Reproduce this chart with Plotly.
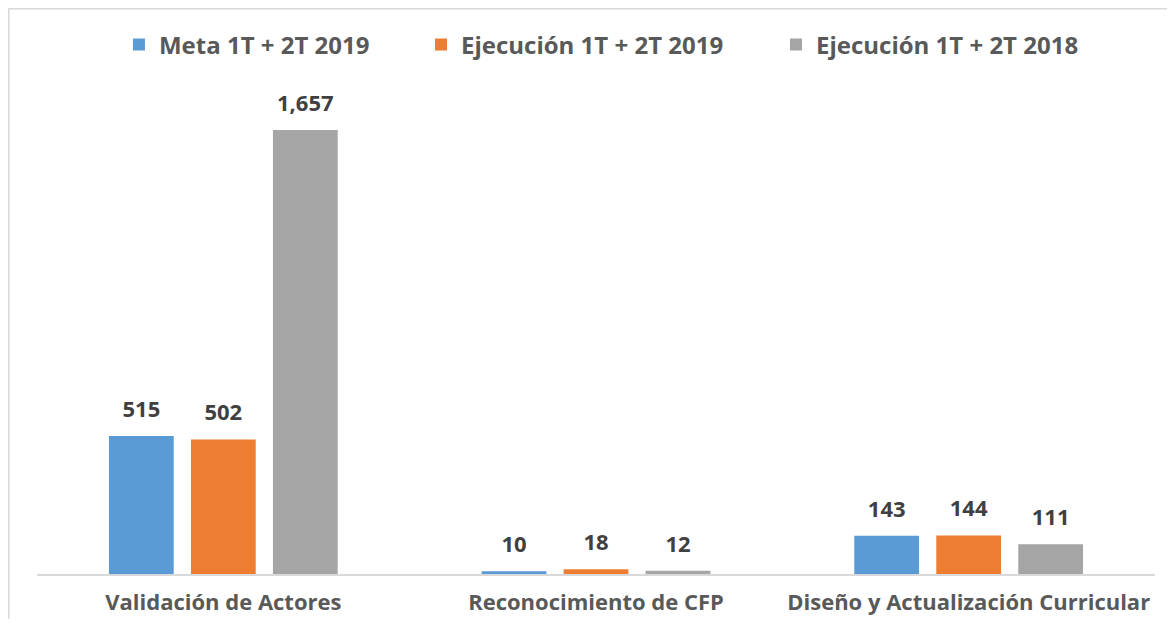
import plotly.graph_objects as go

categorias = ["Validación de Actores", "Reconocimiento de CFP", "Diseño y Actualización Curricular"]
series = ["Meta 1T + 2T 2019", "Ejecución 1T + 2T 2019", "Ejecución 1T + 2T 2018"]
meta_2019 = [515, 10, 143]
ejec_2019 = [502, 18, 144]
ejec_2018 = [1657, 12, 111]

_COLORS = ["#5B9BD5", "#ED7D31", "#A5A5A5"]
_TEXT = "#595959"
_LABEL = "#404040"
_FONT = "Open Sans"
_GAP = 0.34

fig = go.Figure()
legends = ["legend", "legend2", "legend3"]
for name, vals, color, lg in zip(series, [meta_2019, ejec_2019, ejec_2018], _COLORS, legends):
    fig.add_trace(go.Bar(
        x=categorias, y=vals, name=name,
        marker=dict(color=color, line=dict(width=0)),
        showlegend=True,
        legend=lg,
    ))

# etiquetas de datos: scatter agrupado (marcador invisible para separar el texto de la barra)
for name, vals in zip(series, [meta_2019, ejec_2019, ejec_2018]):
    fig.add_trace(go.Scatter(
        x=categorias, y=vals, name=name,
        mode="markers+text",
        marker=dict(size=20, opacity=0),
        text=[f"{v:,}" for v in vals],
        textposition="top center",
        textfont=dict(family=_FONT, size=22, color=_LABEL, weight="bold"),
        cliponaxis=False,
        showlegend=False,
        hoverinfo="skip",
    ))

# la página tiene 8 px de margen: la figura se dibuja desde (8, 8)
_leg = dict(
    orientation="h", yanchor="middle", y=1.116, xanchor="left",
    font=dict(family=_FONT, size=24, color=_TEXT, weight="bold"),
    bgcolor="rgba(0,0,0,0)", itemwidth=30,
)
fig.update_layout(
    showlegend=True,
    legend=dict(_leg, x=0.0733),
    legend2=dict(_leg, x=0.3435),
    legend3=dict(_leg, x=0.661),
    barmode="group",
    bargap=_GAP,
    bargroupgap=0.21,
    scattermode="group",
    scattergap=_GAP,
    width=1159, height=611,
    margin=dict(l=29, r=12, t=92, b=45, autoexpand=False),
    plot_bgcolor="white", paper_bgcolor="white",
    font=dict(family=_FONT, color=_TEXT),
    xaxis=dict(
        showline=True, linecolor="#D9D9D9", linewidth=1.5,
        ticks="", ticklabelstandoff=8, automargin=False,
        tickfont=dict(family=_FONT, size=22, color=_TEXT, weight="bold"),
    ),
    yaxis=dict(visible=False, range=[0, 1769], automargin=False),
    shapes=[dict(
        type="rect", xref="paper", yref="paper",
        x0=-0.0253, x1=1.05, y0=-0.2, y1=1.1925,
        line=dict(color="#D9D9D9", width=1.5), fillcolor="rgba(0,0,0,0)", layer="below",
    )],
)

fig.write_html("out.html")
